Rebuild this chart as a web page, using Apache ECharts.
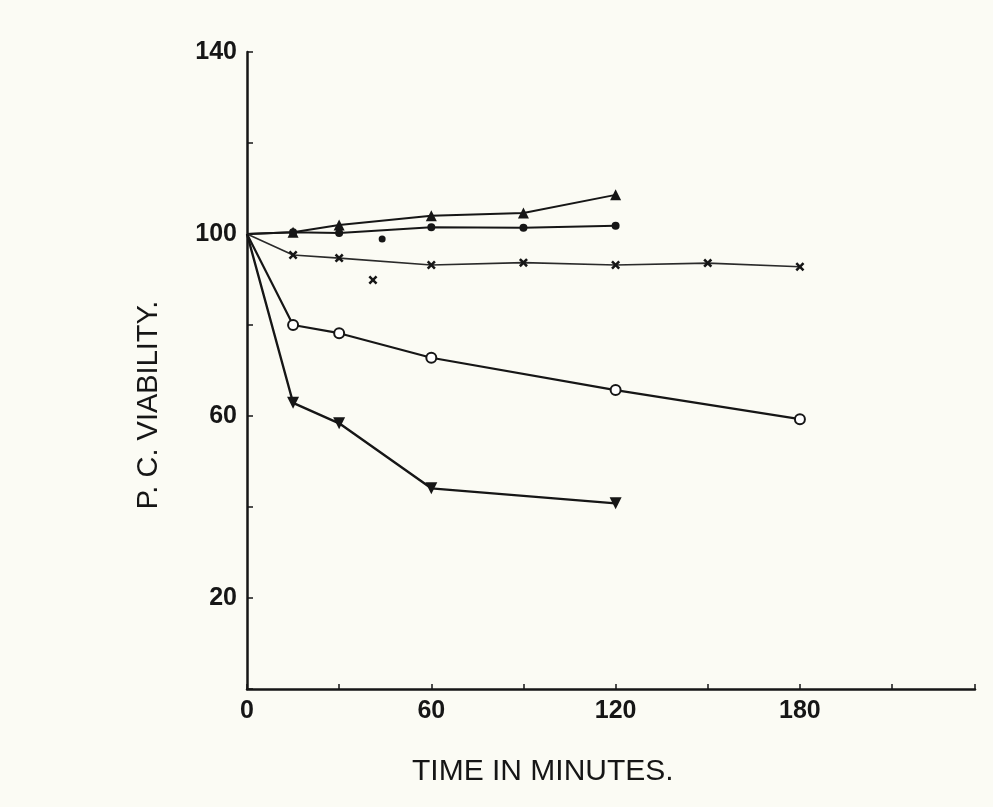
<!DOCTYPE html>
<html>
<head>
<meta charset="utf-8">
<script src="https://cdn.jsdelivr.net/npm/echarts@6/dist/echarts.min.js"></script>
<style>
html,body{margin:0;padding:0;background:#fbfbf4;}
#chart{width:993px;height:807px;}
</style>
</head>
<body>
<div id="chart"></div>
<script>
// ---- data ----
var xTickLabels = [0, 60, 120, 180];
var yTickLabels = [20, 60, 100, 140];

var timesTriangleUp = [0, 15, 30, 60, 90, 120];
var valuesTriangleUp = [100, 100.4, 102.0, 104.0, 104.6, 108.6];

var timesDot = [0, 15, 30, 60, 90, 120];
var valuesDot = [100, 100.4, 100.2, 101.5, 101.4, 101.8];

var timesCross = [0, 15, 30, 60, 90, 120, 150, 180];
var valuesCross = [100, 95.4, 94.7, 93.2, 93.7, 93.2, 93.6, 92.8];

var timesCircle = [0, 15, 30, 60, 120, 180];
var valuesCircle = [100, 80.0, 78.2, 72.8, 65.7, 59.3];

var timesTriangleDown = [0, 15, 30, 60, 120];
var valuesTriangleDown = [100, 62.9, 58.4, 44.1, 40.8];

var strayDotTime = [44];
var strayDotValue = [98.9];
var strayCrossTime = [41];
var strayCrossValue = [89.9];

var xAxisTitle = 'TIME IN MINUTES.';
var yAxisTitle = 'P. C. VIABILITY.';

// the common starting point (t = 0) carries no marker in the reference
function pairs(xs, ys) {
  return xs.map(function (x, i) {
    var item = {value: [x, ys[i]]};
    if (x === 0) item.symbol = 'none';
    return item;
  });
}

var crossPath = 'path://M2,0 L5,3 L8,0 L10,2 L7,5 L10,8 L8,10 L5,7 L2,10 L0,8 L3,5 L0,2 Z';
var ink = '#161616';

var chart = echarts.init(document.getElementById('chart'), null, {renderer: 'canvas'});
chart.setOption({
  backgroundColor: '#fbfbf4',
  animation: false,
  grid: {left: 247, right: 18, top: 52, bottom: 118},
  xAxis: {
    type: 'value', min: 0, max: 237, interval: 30,
    axisLine: {lineStyle: {color: ink, width: 2.5}},
    axisTick: {inside: true, length: 5, lineStyle: {color: ink, width: 1.5}},
    splitLine: {show: false},
    axisLabel: {
      margin: 10, color: ink, fontSize: 25, fontWeight: 'bold',
      fontFamily: 'Liberation Sans, Arial, sans-serif',
      formatter: function (v) { return xTickLabels.indexOf(v) >= 0 ? String(v) : ''; }
    }
  },
  yAxis: {
    type: 'value', min: 0, max: 140, interval: 20,
    axisLine: {lineStyle: {color: ink, width: 2.5}},
    axisTick: {inside: true, length: 6, lineStyle: {color: ink, width: 1.5}},
    splitLine: {show: false},
    axisLabel: {
      margin: 10, color: ink, fontSize: 25, fontWeight: 'bold',
      fontFamily: 'Liberation Sans, Arial, sans-serif',
      formatter: function (v) { return yTickLabels.indexOf(v) >= 0 ? String(v) : ''; }
    }
  },
  graphic: [
    {type: 'text', left: 412, top: 757,
     style: {text: xAxisTitle, fill: ink, font: '30px "Liberation Sans", Arial, sans-serif'}},
    {type: 'text', x: 149, y: 405, rotation: Math.PI / 2,
     style: {text: yAxisTitle, fill: ink, font: '29px "Liberation Sans", Arial, sans-serif',
             align: 'center', verticalAlign: 'middle'}}
  ],
  series: [
    {type: 'line', data: pairs(timesTriangleUp, valuesTriangleUp),
     symbol: 'triangle', symbolSize: 11, showAllSymbol: true,
     lineStyle: {color: ink, width: 2}, itemStyle: {color: ink}},
    {type: 'line', data: pairs(timesDot, valuesDot),
     symbol: 'circle', symbolSize: 8,
     lineStyle: {color: ink, width: 2}, itemStyle: {color: ink}},
    {type: 'line', data: pairs(timesCross, valuesCross),
     symbol: crossPath, symbolSize: 9,
     lineStyle: {color: '#2a2a2a', width: 1.6}, itemStyle: {color: ink}},
    {type: 'line', data: pairs(timesCircle, valuesCircle),
     symbol: 'emptyCircle', symbolSize: 10,
     lineStyle: {color: ink, width: 2.2}, itemStyle: {color: ink, borderColor: ink, borderWidth: 2.8}},
    {type: 'line', data: pairs(timesTriangleDown, valuesTriangleDown),
     symbol: 'triangle', symbolRotate: 180, symbolSize: 12,
     lineStyle: {color: ink, width: 2.4}, itemStyle: {color: ink}},
    {type: 'scatter', data: pairs(strayDotTime, strayDotValue),
     symbol: 'circle', symbolSize: 7, itemStyle: {color: ink, opacity: 1}},
    {type: 'scatter', data: pairs(strayCrossTime, strayCrossValue),
     symbol: crossPath, symbolSize: 9, itemStyle: {color: ink, opacity: 1}}
  ]
});
</script>
</body>
</html>
